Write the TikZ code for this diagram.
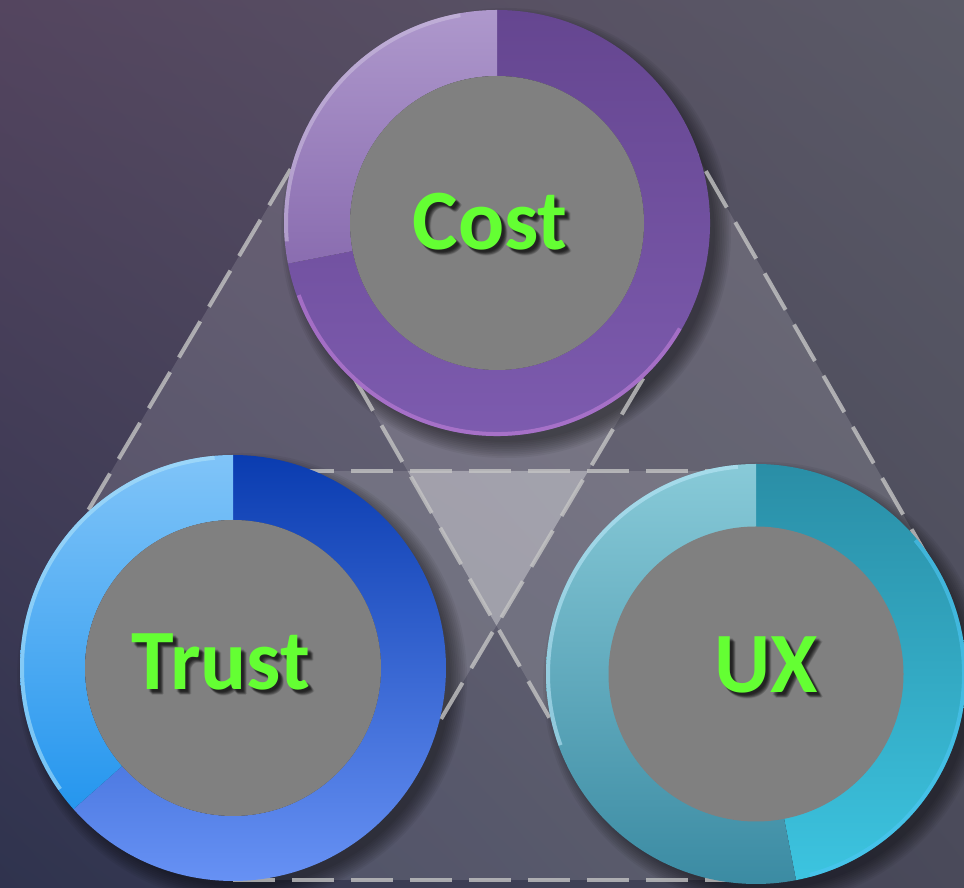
\documentclass[tikz,border=0pt]{standalone}
\usepackage{fontspec}
\newfontfamily\lblfont{Carlito}
\usetikzlibrary{calc,shadings}
\definecolor{bgUL}{HTML}{54455F}
\definecolor{bgUR}{HTML}{5B5B67}
\definecolor{bgLL}{HTML}{2F334E}
\definecolor{bgLR}{HTML}{4A4A5A}
\definecolor{costDt}{HTML}{654690}
\definecolor{costDb}{HTML}{7E5CB0}
\definecolor{costLt}{HTML}{AE98CC}
\definecolor{costLb}{HTML}{8A6DB0}
\definecolor{trDt}{HTML}{0A3CB0}
\definecolor{trDm}{HTML}{1256F2}
\definecolor{trDb}{HTML}{6C96F8}
\definecolor{trLt}{HTML}{80C4F8}
\definecolor{trLb}{HTML}{2596EE}
\definecolor{uxDt}{HTML}{2A8EA6}
\definecolor{uxDb}{HTML}{3CC4E0}
\definecolor{uxLt}{HTML}{88CAD8}
\definecolor{uxLb}{HTML}{3A8AA2}
\definecolor{lblgreen}{HTML}{64FF33}
\definecolor{diskgray}{HTML}{808080}
\definecolor{dashgray}{HTML}{C4C4C4}
\newcommand\ringpart[6]{%
  \path[#6] ($(#1)+(#2:#4)$) arc[start angle=#2, end angle=#3, radius=#4]
    -- ($(#1)+(#3:#5)$) arc[start angle=#3, end angle=#2, radius=#5] -- cycle;}
\newcommand\shadowtext[2]{%
  \foreach \dx/\dy in {3/-3,4/-4,5/-5,4/-3,3/-4,5/-4,4/-5,6/-5,5/-6,2/-3,3/-2}{
    \node[lbl, text=black, opacity=0.10] at ($(#1)+(\dx,\dy)$) {#2};}
  \node[lbl] at (#1) {#2};}
\begin{document}
\begin{tikzpicture}[x=1pt,y=1pt,
  bandfill/.style={fill=white, fill opacity=0.13},
  dashline/.style={draw=dashgray, draw opacity=0.8, line width=4pt, dash pattern=on 42pt off 17pt},
  lbl/.style={font=\lblfont\bfseries\fontsize{86}{90}\selectfont, text=lblgreen, inner sep=0pt, anchor=base},
  disk/.style={fill=diskgray},
  rimline/.style={line width=4pt, draw opacity=0.55}]
\useasboundingbox (0,0) rectangle (964,888);
\shade[upper left=bgUL, upper right=bgUR, lower left=bgLL, lower right=bgLR] (0,0) rectangle (964,888);

% circle centres
\coordinate (cC) at (497,665);
\coordinate (cT) at (233,220);
\coordinate (cU) at (756,214);

% band corners
\coordinate (ctI1) at ($(cC)!205pt!90:(cT)$);
\coordinate (ctI2) at ($(cT)!205pt!-90:(cC)$);
\coordinate (ctO1) at ($(cC)!205pt!-90:(cT)$);
\coordinate (ctO2) at ($(cT)!205pt!90:(cC)$);
\coordinate (cuO1) at ($(cC)!207pt!90:(cU)$);
\coordinate (cuO2) at ($(cU)!207pt!-90:(cC)$);
\coordinate (cuI1) at ($(cC)!201pt!-90:(cU)$);
\coordinate (cuI2) at ($(cU)!201pt!90:(cC)$);
\coordinate (tuI1) at (233,417);
\coordinate (tuI2) at (756,417);
\coordinate (tuO1) at (233,8);
\coordinate (tuO2) at (756,8);

% bands
\fill[bandfill] (ctO1) -- (ctO2) -- (ctI2) -- (ctI1) -- cycle;
\fill[bandfill] (cuO1) -- (cuO2) -- (cuI2) -- (cuI1) -- cycle;
\fill[bandfill] (tuO1) -- (tuO2) -- (tuI2) -- (tuI1) -- cycle;

% central triangle (all three bands overlap)
\coordinate (P1) at (intersection of ctI1--ctI2 and cuI1--cuI2);
\coordinate (P2) at (intersection of tuI1--tuI2 and cuI1--cuI2);
\coordinate (P3) at (intersection of tuI1--tuI2 and ctI1--ctI2);
\fill[white, fill opacity=0.24] (P1) -- (P2) -- (P3) -- cycle;

% soft shadows of the circles
\foreach \c/\r in {cC/213,cT/213,cU/210}{
  \foreach \k in {1,...,10}{
    \fill[black, opacity=0.05] ($(\c)+(9,-10)$) circle[radius=\r+1.8*\k-6];
  }
}

% dashed band edges
\draw[dashline] (ctO1) -- (ctO2);
\draw[dashline] (ctI1) -- (ctI2);
\draw[dashline] (cuO1) -- (cuO2);
\draw[dashline] (cuI1) -- (cuI2);
\draw[dashline] (tuI1) -- (tuI2);
\draw[dashline] (tuO1) -- (tuO2);

% Cost ring
\ringpart{cC}{191}{450}{213}{147}{top color=costDt, bottom color=costDb}
\ringpart{cC}{90}{191}{213}{147}{top color=costLt, bottom color=costLb}
\draw[rimline, draw=costLt!60!white] (cC) ++(100:211) arc[start angle=100, end angle=185, radius=211];
\draw[rimline, draw=costDb!60!magenta!60!white, draw opacity=0.5] (cC) ++(200:211) arc[start angle=200, end angle=330, radius=211];
\fill[disk] (cC) circle[radius=147];

% Trust ring
\ringpart{cT}{221.5}{450}{213}{148}{top color=trDt, middle color=trDm, bottom color=trDb}
\ringpart{cT}{90}{221.5}{213}{148}{top color=trLt, bottom color=trLb}
\draw[rimline, draw=cyan!30!white] (cT) ++(95:211) arc[start angle=95, end angle=215, radius=211];
\fill[disk] (cT) circle[radius=148];

% UX ring
\ringpart{cU}{281}{450}{210}{147}{top color=uxDt, bottom color=uxDb}
\ringpart{cU}{90}{281}{210}{147}{top color=uxLt, bottom color=uxLb}
\draw[rimline, draw=cyan!25!white] (cU) ++(95:208) arc[start angle=95, end angle=200, radius=208];
\draw[rimline, draw=cyan!70!white, draw opacity=0.6] (cU) ++(285:208) arc[start angle=285, end angle=400, radius=208];
\fill[disk] (cU) circle[radius=147.5];

% labels
\coordinate (tC) at (490,638);
\coordinate (tT) at (221,198);
\coordinate (tU) at (766,195);
\shadowtext{tC}{Cost}
\shadowtext{tT}{Trust}
\shadowtext{tU}{UX}
\end{tikzpicture}
\end{document}
